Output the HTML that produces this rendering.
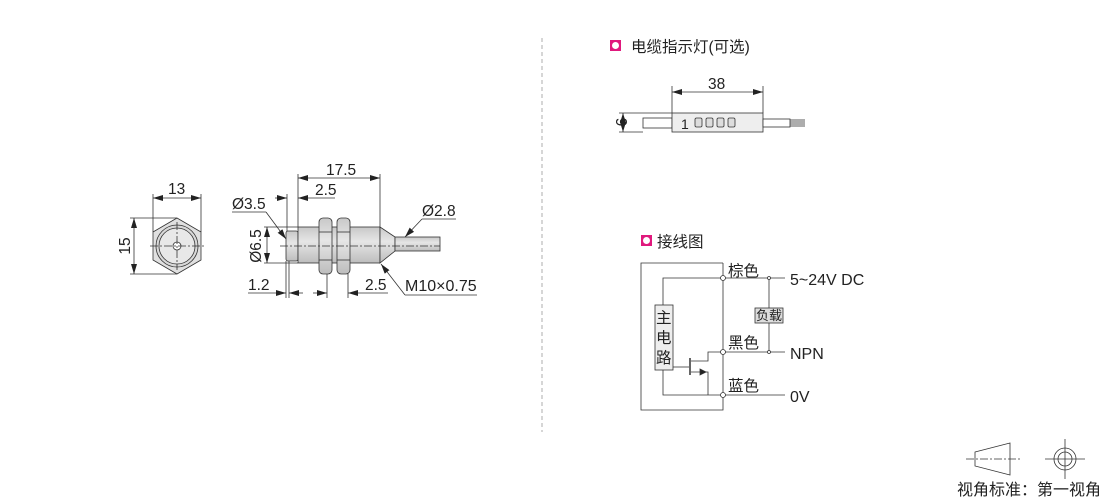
<!DOCTYPE html>
<html><head><meta charset="utf-8"><style>
body{margin:0;background:#fff;}
svg{display:block;font-family:"Liberation Sans","Noto Sans CJK SC",sans-serif;}
</style></head><body>
<svg width="1110" height="500" viewBox="0 0 1110 500" xmlns="http://www.w3.org/2000/svg">
<defs>
<marker id="a" viewBox="0 0 10 6" refX="10" refY="3" markerWidth="10" markerHeight="6" orient="auto-start-reverse" markerUnits="userSpaceOnUse"><path d="M0,0 L10,3 L0,6 z" fill="#222"/></marker>
<linearGradient id="g" x1="0" y1="0" x2="0" y2="1"><stop offset="0" stop-color="#c8c8c8"/><stop offset="0.4" stop-color="#e6e6e6"/><stop offset="1" stop-color="#bdbdbd"/></linearGradient>
</defs>
<g stroke="#333" stroke-width="0.8" fill="none">
<polygon points="177,218 201,232 201,260 177,274 153,260 153,232" fill="#e0e0e0"/>
<circle cx="177" cy="246" r="21" fill="#d8d8d8"/>
<circle cx="177" cy="246" r="18" fill="#e8e8e8"/>
<circle cx="177" cy="246" r="4" fill="#fff"/>
<line x1="150" y1="246" x2="206" y2="246" stroke-dasharray="8,2,2,2"/>
<line x1="177" y1="222" x2="177" y2="270" stroke-dasharray="8,2,2,2"/>
<line x1="153" y1="194" x2="153" y2="232"/><line x1="201" y1="194" x2="201" y2="232"/>
<line x1="153" y1="198" x2="201" y2="198" marker-start="url(#a)" marker-end="url(#a)"/>
<line x1="130" y1="218" x2="177" y2="218"/><line x1="130" y1="274" x2="177" y2="274"/>
<line x1="134" y1="218" x2="134" y2="274" marker-start="url(#a)" marker-end="url(#a)"/>
<rect x="286" y="231" width="12" height="30" fill="url(#g)" rx="2"/>
<rect x="298" y="227" width="82" height="36" fill="url(#g)"/>
<polygon points="380,227 395,237 395,251 380,263" fill="url(#g)"/>
<rect x="395" y="237" width="45" height="14" fill="url(#g)"/>
<rect x="319" y="218" width="13" height="56" rx="4" fill="url(#g)"/>
<rect x="337" y="218" width="13" height="56" rx="4" fill="url(#g)"/>
<line x1="319" y1="232" x2="332" y2="232"/><line x1="319" y1="260" x2="332" y2="260"/>
<line x1="337" y1="232" x2="350" y2="232"/><line x1="337" y1="260" x2="350" y2="260"/>
<line x1="280" y1="246" x2="440" y2="246" stroke-dasharray="8,2,2,2"/>
<line x1="298" y1="174" x2="298" y2="227"/><line x1="380" y1="174" x2="380" y2="227"/>
<line x1="298" y1="178" x2="380" y2="178" marker-start="url(#a)" marker-end="url(#a)"/>
<line x1="287" y1="194" x2="287" y2="231"/>
<line x1="275" y1="198" x2="287" y2="198" marker-end="url(#a)"/>
<line x1="298" y1="198" x2="335" y2="198" marker-start="url(#a)"/>
<line x1="232" y1="212" x2="266" y2="212"/><line x1="266" y1="212" x2="286" y2="239" marker-end="url(#a)"/>
<line x1="264" y1="227" x2="298" y2="227"/><line x1="264" y1="263" x2="298" y2="263"/>
<line x1="267" y1="227" x2="267" y2="263" marker-start="url(#a)" marker-end="url(#a)"/>
<line x1="286" y1="261" x2="286" y2="298"/><line x1="289" y1="261" x2="289" y2="298"/>
<line x1="248" y1="293" x2="286" y2="293" marker-end="url(#a)"/>
<line x1="303" y1="293" x2="289" y2="293" marker-end="url(#a)"/>
<line x1="327" y1="274" x2="327" y2="298"/><line x1="348" y1="274" x2="348" y2="298"/>
<line x1="313" y1="293" x2="327" y2="293" marker-end="url(#a)"/>
<line x1="388" y1="293" x2="348" y2="293" marker-end="url(#a)"/>
<line x1="477" y1="295" x2="405" y2="295"/><line x1="405" y1="295" x2="381" y2="264" marker-end="url(#a)"/>
<line x1="456" y1="219" x2="422" y2="219"/><line x1="422" y1="219" x2="405" y2="237" marker-end="url(#a)"/>
<line x1="542" y1="38" x2="542" y2="432" stroke="#999" stroke-dasharray="4,3"/>
<rect x="643" y="118" width="29" height="10" fill="#fff"/>
<rect x="672" y="113" width="91" height="19" fill="#eee"/>
<rect x="763" y="119" width="27" height="8" fill="#fff"/>
<line x1="790" y1="120" x2="805" y2="120"/><line x1="790" y1="122" x2="805" y2="122"/><line x1="790" y1="124" x2="805" y2="124"/><line x1="790" y1="126" x2="805" y2="126"/>
<line x1="672" y1="86" x2="672" y2="113"/><line x1="763" y1="86" x2="763" y2="113"/>
<line x1="672" y1="92" x2="763" y2="92" marker-start="url(#a)" marker-end="url(#a)"/>
<line x1="619" y1="113" x2="672" y2="113"/><line x1="619" y1="132" x2="643" y2="132"/>
<line x1="623" y1="113" x2="623" y2="132" marker-start="url(#a)" marker-end="url(#a)"/>
<rect x="695" y="118" width="7" height="9" rx="1.5" fill="#ddd"/><rect x="706" y="118" width="7" height="9" rx="1.5" fill="#ddd"/><rect x="717" y="118" width="7" height="9" rx="1.5" fill="#ddd"/><rect x="728" y="118" width="7" height="9" rx="1.5" fill="#ddd"/>
<polyline points="723,263 641,263 641,410 723,410 723,263"/>
<line x1="723" y1="278" x2="785" y2="278"/><line x1="723" y1="352" x2="785" y2="352"/><line x1="723" y1="395" x2="785" y2="395"/>
<line x1="769" y1="278" x2="769" y2="352"/>
<polyline points="723,278 663,278 663,305"/>
<rect x="655" y="305" width="18" height="65" fill="#eee"/>
<polyline points="663,370 663,395 723,395"/>
<line x1="673" y1="367" x2="689" y2="367"/>
<line x1="690" y1="358" x2="690" y2="375" stroke-width="1.5"/>
<polyline points="691,361 708,361 708,352 723,352"/>
<polyline points="691,372 708,372 708,395"/>
<path d="M700,369 L706,372 L700,375z" fill="#222"/>
<circle cx="723" cy="278" r="2.5" fill="#fff"/><circle cx="723" cy="352" r="2.5" fill="#fff"/><circle cx="723" cy="395" r="2.5" fill="#fff"/>
<circle cx="769" cy="278" r="1.5" fill="#fff"/><circle cx="769" cy="352" r="1.5" fill="#fff"/>
<rect x="755" y="308" width="28" height="15" fill="#ddd"/>
<polygon points="975,452 1010,443 1010,475 975,466"/>
<line x1="966" y1="459" x2="1020" y2="459" stroke-dasharray="8,2,2,2"/>
<circle cx="1065" cy="459" r="11"/><circle cx="1065" cy="459" r="7"/>
<line x1="1045" y1="459" x2="1085" y2="459"/><line x1="1065" y1="439" x2="1065" y2="479"/>
</g>
<rect x="610" y="40" width="11" height="11" fill="#e0197d"/><circle cx="615.5" cy="45.5" r="3.5" fill="#fff"/>
<rect x="641" y="235" width="11" height="11" fill="#e0197d"/><circle cx="646.5" cy="240.5" r="3.5" fill="#fff"/>
<g font-size="15.5" fill="#222">
<text x="168" y="194">13</text>
<text transform="translate(130,246) rotate(-90)" text-anchor="middle">15</text>
<text x="326" y="175">17.5</text>
<text x="315" y="195">2.5</text>
<text x="232" y="209">Ø3.5</text>
<text transform="translate(261,246) rotate(-90)" text-anchor="middle">Ø6.5</text>
<text x="248" y="290">1.2</text>
<text x="365" y="290">2.5</text>
<text x="405" y="291" font-size="16">M10×0.75</text>
<text x="422" y="216">Ø2.8</text>
<text x="631" y="52">电缆指示灯(可选)</text>
<text x="708" y="89">38</text>
<text transform="translate(616,122) rotate(90)" text-anchor="middle">9</text>
<text x="681" y="129" font-size="14">1</text>
<text x="657" y="247">接线图</text>
<text x="728" y="276">棕色</text>
<text x="790" y="285" font-size="16">5~24V DC</text>
<text x="728" y="348">黑色</text>
<text x="790" y="359" font-size="16">NPN</text>
<text x="728" y="391">蓝色</text>
<text x="790" y="402" font-size="16">0V</text>
<text x="756" y="320" font-size="13">负载</text>
<text x="656" y="323">主</text><text x="656" y="343">电</text><text x="656" y="363">路</text>
<text x="957" y="495" font-size="16">视角标准：第一视角</text>
</g>
</svg>
</body></html>
